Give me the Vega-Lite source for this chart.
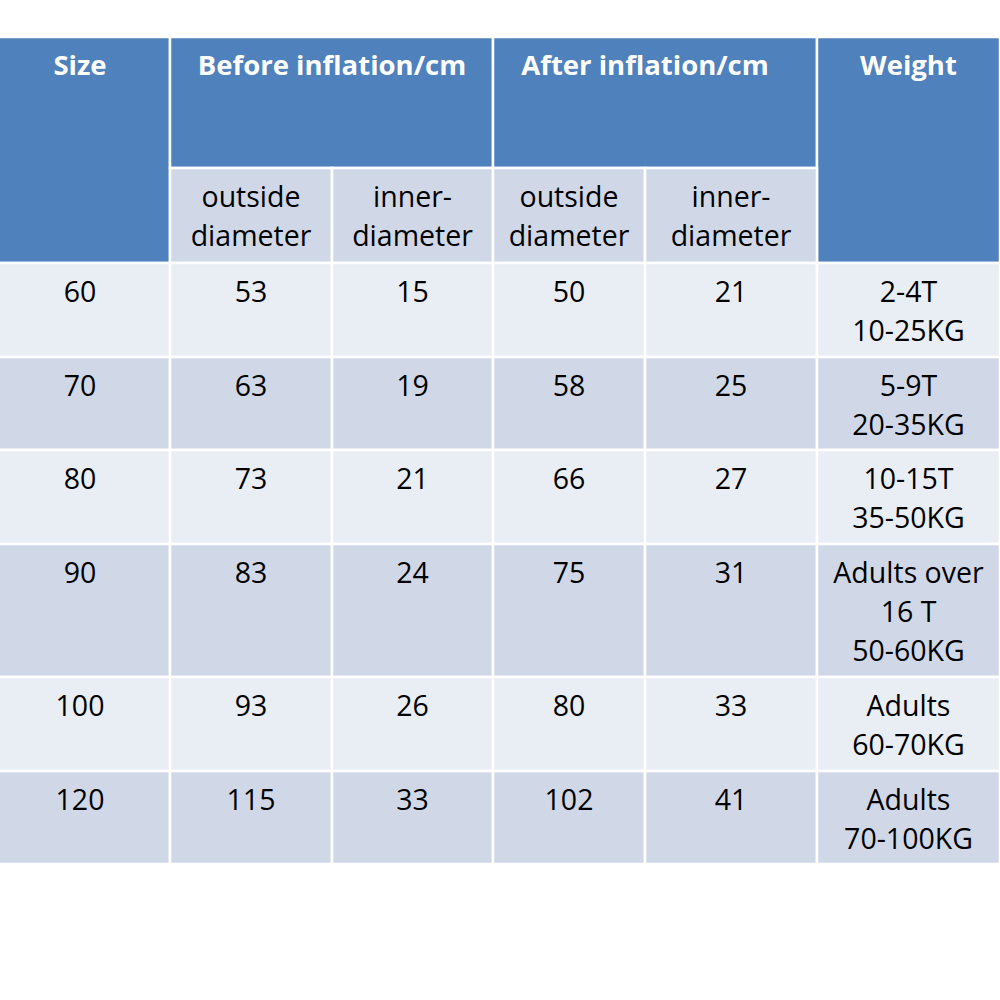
{
  "$schema": "https://vega.github.io/schema/vega-lite/v6.json",
  "width": 1000,
  "height": 1000,
  "autosize": {"type": "none"},
  "padding": 0,
  "background": "white",
  "config": {"view": {"stroke": null}},
  "data": {
    "values": [
      {"c0": 0, "c1": 1, "r0": 0, "r1": 2, "kind": "head", "label": "Size"},
      {"c0": 1, "c1": 3, "r0": 0, "r1": 1, "kind": "head", "label": "Before inflation/cm"},
      {"c0": 3, "c1": 5, "r0": 0, "r1": 1, "kind": "head", "label": "After inflation/cm"},
      {"c0": 5, "c1": 6, "r0": 0, "r1": 2, "kind": "head", "label": "Weight"},
      {"c0": 1, "c1": 2, "r0": 1, "r1": 2, "kind": "sub", "label": "outside\ndiameter"},
      {"c0": 2, "c1": 3, "r0": 1, "r1": 2, "kind": "sub", "label": "inner-\ndiameter"},
      {"c0": 3, "c1": 4, "r0": 1, "r1": 2, "kind": "sub", "label": "outside\ndiameter"},
      {"c0": 4, "c1": 5, "r0": 1, "r1": 2, "kind": "sub", "label": "inner-\ndiameter"},

      {"c0": 0, "c1": 1, "r0": 2, "r1": 3, "kind": "odd", "label": "60"},
      {"c0": 1, "c1": 2, "r0": 2, "r1": 3, "kind": "odd", "label": "53"},
      {"c0": 2, "c1": 3, "r0": 2, "r1": 3, "kind": "odd", "label": "15"},
      {"c0": 3, "c1": 4, "r0": 2, "r1": 3, "kind": "odd", "label": "50"},
      {"c0": 4, "c1": 5, "r0": 2, "r1": 3, "kind": "odd", "label": "21"},
      {"c0": 5, "c1": 6, "r0": 2, "r1": 3, "kind": "odd", "label": "2-4T\n10-25KG"},

      {"c0": 0, "c1": 1, "r0": 3, "r1": 4, "kind": "even", "label": "70"},
      {"c0": 1, "c1": 2, "r0": 3, "r1": 4, "kind": "even", "label": "63"},
      {"c0": 2, "c1": 3, "r0": 3, "r1": 4, "kind": "even", "label": "19"},
      {"c0": 3, "c1": 4, "r0": 3, "r1": 4, "kind": "even", "label": "58"},
      {"c0": 4, "c1": 5, "r0": 3, "r1": 4, "kind": "even", "label": "25"},
      {"c0": 5, "c1": 6, "r0": 3, "r1": 4, "kind": "even", "label": "5-9T\n20-35KG"},

      {"c0": 0, "c1": 1, "r0": 4, "r1": 5, "kind": "odd", "label": "80"},
      {"c0": 1, "c1": 2, "r0": 4, "r1": 5, "kind": "odd", "label": "73"},
      {"c0": 2, "c1": 3, "r0": 4, "r1": 5, "kind": "odd", "label": "21"},
      {"c0": 3, "c1": 4, "r0": 4, "r1": 5, "kind": "odd", "label": "66"},
      {"c0": 4, "c1": 5, "r0": 4, "r1": 5, "kind": "odd", "label": "27"},
      {"c0": 5, "c1": 6, "r0": 4, "r1": 5, "kind": "odd", "label": "10-15T\n35-50KG"},

      {"c0": 0, "c1": 1, "r0": 5, "r1": 6, "kind": "even", "label": "90"},
      {"c0": 1, "c1": 2, "r0": 5, "r1": 6, "kind": "even", "label": "83"},
      {"c0": 2, "c1": 3, "r0": 5, "r1": 6, "kind": "even", "label": "24"},
      {"c0": 3, "c1": 4, "r0": 5, "r1": 6, "kind": "even", "label": "75"},
      {"c0": 4, "c1": 5, "r0": 5, "r1": 6, "kind": "even", "label": "31"},
      {"c0": 5, "c1": 6, "r0": 5, "r1": 6, "kind": "even", "label": "Adults over\n16 T\n50-60KG"},

      {"c0": 0, "c1": 1, "r0": 6, "r1": 7, "kind": "odd", "label": "100"},
      {"c0": 1, "c1": 2, "r0": 6, "r1": 7, "kind": "odd", "label": "93"},
      {"c0": 2, "c1": 3, "r0": 6, "r1": 7, "kind": "odd", "label": "26"},
      {"c0": 3, "c1": 4, "r0": 6, "r1": 7, "kind": "odd", "label": "80"},
      {"c0": 4, "c1": 5, "r0": 6, "r1": 7, "kind": "odd", "label": "33"},
      {"c0": 5, "c1": 6, "r0": 6, "r1": 7, "kind": "odd", "label": "Adults\n60-70KG"},

      {"c0": 0, "c1": 1, "r0": 7, "r1": 8, "kind": "even", "label": "120"},
      {"c0": 1, "c1": 2, "r0": 7, "r1": 8, "kind": "even", "label": "115"},
      {"c0": 2, "c1": 3, "r0": 7, "r1": 8, "kind": "even", "label": "33"},
      {"c0": 3, "c1": 4, "r0": 7, "r1": 8, "kind": "even", "label": "102"},
      {"c0": 4, "c1": 5, "r0": 7, "r1": 8, "kind": "even", "label": "41"},
      {"c0": 5, "c1": 6, "r0": 7, "r1": 8, "kind": "even", "label": "Adults\n70-100KG"}
    ]
  },
  "encoding": {
    "x": {"field": "c0", "type": "quantitative", "scale": {"domain": [0, 1, 2, 3, 4, 5, 6], "range": [-10, 170, 332, 493, 645, 817, 1000], "nice": false, "zero": false}, "axis": null},
    "y": {"field": "r0", "type": "quantitative", "scale": {"domain": [0, 1, 2, 3, 4, 5, 6, 7, 8], "range": [37, 168, 263, 357, 450, 544, 677, 771, 864], "nice": false, "zero": false}, "axis": null}
  },
  "layer": [
    {
      "mark": {"type": "rect", "stroke": "white", "strokeWidth": 2.5},
      "encoding": {
        "x2": {"field": "c1"},
        "y2": {"field": "r1"},
        "fill": {"field": "kind", "type": "nominal", "scale": {"domain": ["head", "sub", "odd", "even"], "range": ["#4F81BD", "#D0D8E8", "#E9EDF4", "#D0D8E8"]}, "legend": null}
      }
    },
    {
      "transform": [
        {"filter": "datum.kind == 'head'"},
        {"fold": ["c0", "c1"], "as": ["edge", "pos"]},
        {"aggregate": [{"op": "mean", "field": "pos", "as": "xm"}], "groupby": ["c0", "r0", "label", "kind"]}
      ],
      "mark": {"type": "text", "font": "Open Sans", "fontWeight": "bold", "fontSize": 27.5, "color": "white", "align": "center", "baseline": "alphabetic", "dy": 38, "lineBreak": "\n"},
      "encoding": {"x": {"field": "xm", "type": "quantitative"}, "text": {"field": "label"}}
    },
    {
      "transform": [
        {"filter": "datum.kind != 'head'"},
        {"fold": ["c0", "c1"], "as": ["edge", "pos"]},
        {"aggregate": [{"op": "mean", "field": "pos", "as": "xm"}], "groupby": ["c0", "r0", "label", "kind"]}
      ],
      "mark": {"type": "text", "font": "Open Sans", "fontSize": 28.5, "color": "black", "align": "center", "baseline": "alphabetic", "dy": 39, "lineHeight": 39, "lineBreak": "\n"},
      "encoding": {"x": {"field": "xm", "type": "quantitative"}, "text": {"field": "label"}}
    }
  ]
}
